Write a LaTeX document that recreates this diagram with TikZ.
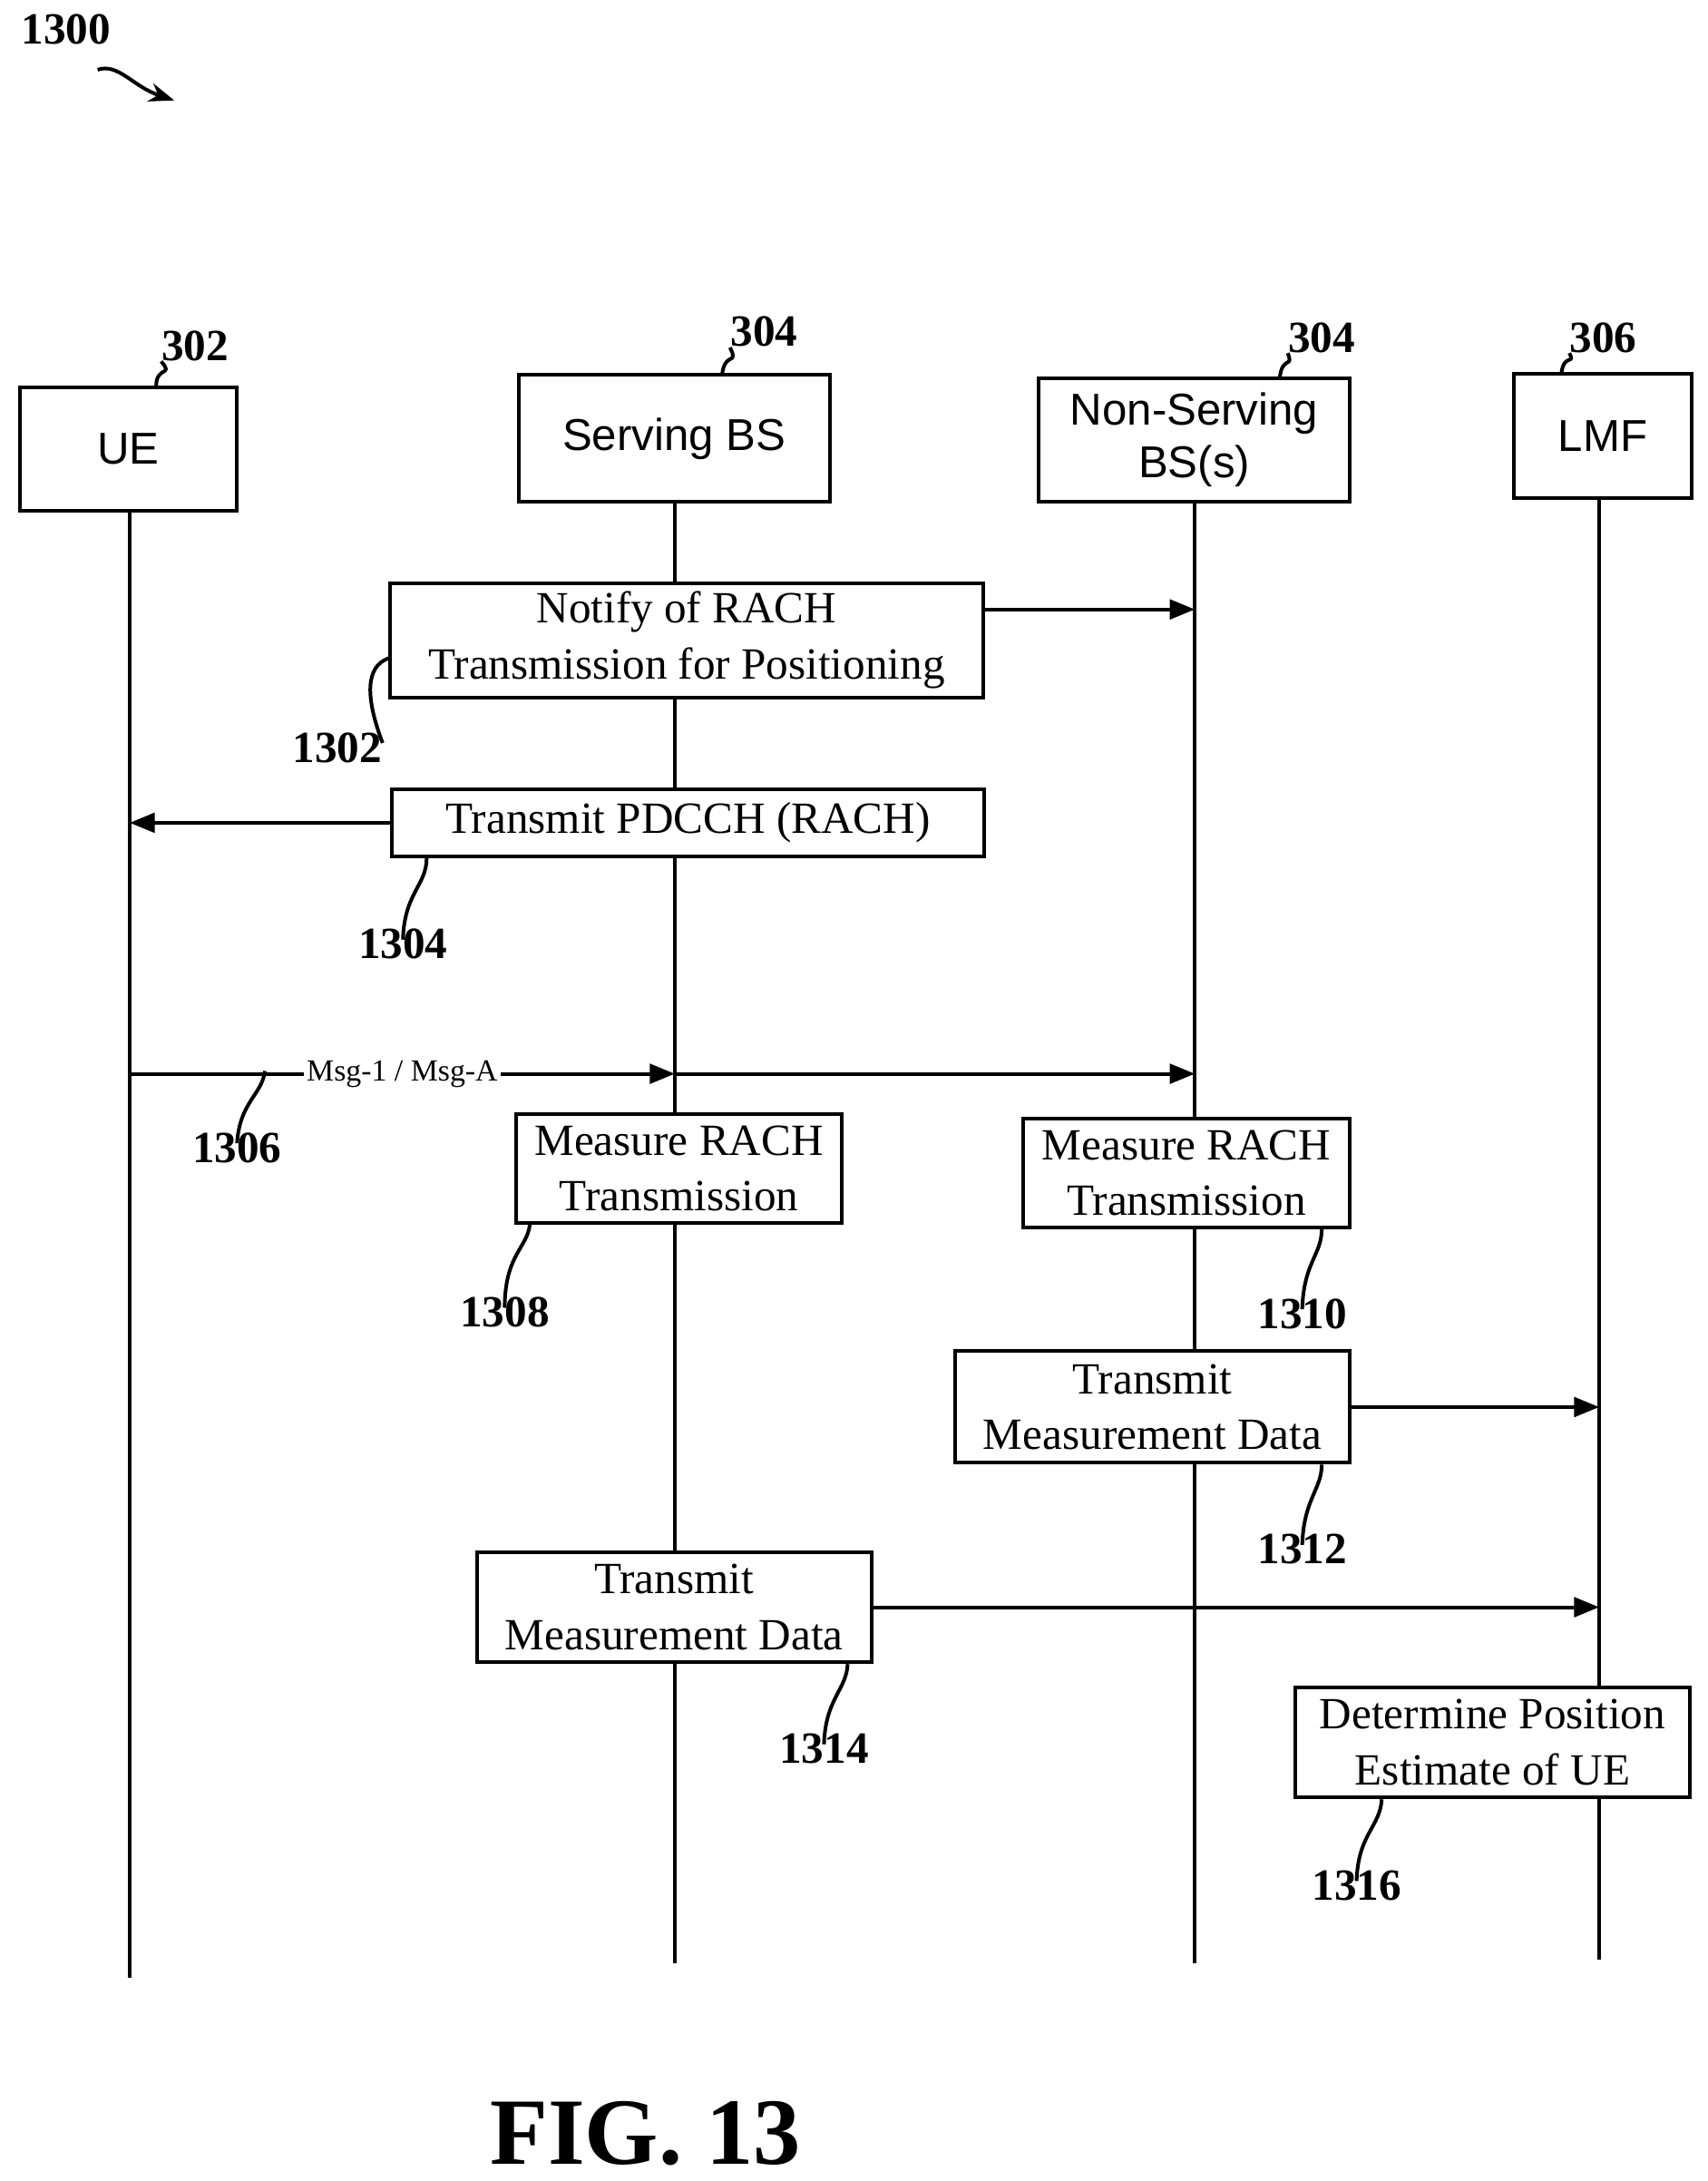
\documentclass[tikz,border=0pt]{standalone}
\usepackage{fontspec}
\setmainfont{Liberation Serif}
\setsansfont{Liberation Sans}
\usetikzlibrary{arrows.meta}
\begin{document}
\begin{tikzpicture}[x=0.5pt,y=0.5pt,yscale=-1,
    hbox/.style={draw,line width=1.3pt,fill=white,inner sep=0pt,font=\sffamily\fontsize{16}{19}\selectfont,align=center},
    sbox/.style={draw,line width=1.3pt,fill=white,inner sep=0pt,font=\fontsize{16}{20}\selectfont,align=center},
    lbl/.style={font=\bfseries\fontsize{16}{19}\selectfont,inner sep=0pt},
    life/.style={line width=1.3pt},
    msg/.style={line width=1.3pt,-{Triangle[length=9pt,width=7pt]}},
    lead/.style={line width=1.3pt}]
\useasboundingbox (0,0) rectangle (1225,1564);
% headers
\node[lbl,anchor=north west] (fig) at (15,10) {1300};
\coordinate (figtip) at (125,72);
\draw[line width=1.3pt,-{Stealth[length=9pt]}] (70,50) .. controls (85,45) and (95,62) .. (figtip);
\node[hbox,minimum width=78pt,minimum height=44pt] (ue) at (92,322) {UE};
\node[hbox,minimum width=111.5pt,minimum height=45.5pt] (sbs) at (483.5,314.5) {Serving BS};
\node[hbox,minimum width=111.5pt,minimum height=44.5pt] (nbs) at (856.5,315.5) {Non-Serving\\BS(s)};
\node[hbox,minimum width=63.5pt,minimum height=44.5pt] (lmf) at (1149.5,312.5) {LMF};
\node[lbl] (l302) at (140,248) {302};
\node[lbl] (l304a) at (548,238) {304};
\node[lbl] (l304b) at (948,242) {304};
\node[lbl] (l306) at (1150,242) {306};
\draw[lead] (112,277) .. controls (112,262) and (125,270) .. (l302.south west);
\draw[lead] (518,268) .. controls (520,252) and (530,262) .. (l304a.south west);
\draw[lead] (918,270) .. controls (920,255) and (928,264) .. (l304b.south west);
\draw[lead] (1120,267) .. controls (1122,253) and (1130,262) .. (l306.south west);
% lifelines
\coordinate (ueend) at (93,1418);
\coordinate (sbsend) at (484,1408);
\coordinate (nbsend) at (857,1408);
\coordinate (lmfend) at (1147,1405);
\draw[life] (ue.south -| ueend) -- (ueend);
\draw[life] (sbs.south -| sbsend) -- (sbsend);
\draw[life] (nbs.south -| nbsend) -- (nbsend);
\draw[life] (lmf.south -| lmfend) -- (lmfend);
% steps
\node[sbox,minimum width=212.5pt,minimum height=41pt] (s1302) at (492.5,459) {Notify of RACH\\Transmission for Positioning};
\node[sbox,minimum width=212.5pt,minimum height=24pt] (s1304) at (493.5,590) {Transmit PDCCH (RACH)};
\node[sbox,minimum width=117pt,minimum height=39pt] (s1308) at (487,838) {Measure RACH\\Transmission};
\node[sbox,minimum width=117pt,minimum height=39pt] (s1310) at (851,841) {Measure RACH\\Transmission};
\node[sbox,minimum width=141.5pt,minimum height=40pt] (s1312) at (826.5,1009) {Transmit\\Measurement Data};
\node[sbox,minimum width=141.5pt,minimum height=39.5pt] (s1314) at (483.5,1152.5) {Transmit\\Measurement Data};
\node[sbox,minimum width=141.5pt,minimum height=39.5pt] (s1316) at (1070.5,1249.5) {Determine Position\\Estimate of UE};
% messages
\draw[msg] (s1302.east |- 0,437) -- (nbsend |- 0,437);
\draw[msg] (s1304.west) -- (ueend |- s1304.west);
\coordinate (m1) at (ueend |- 0,770);
\draw[msg] (m1) -- (sbsend |- m1) node[pos=0.5,fill=white,inner sep=1pt,font=\fontsize{11}{13}\selectfont] {Msg-1 / Msg-A};
\draw[msg] (sbsend |- m1) -- (nbsend |- m1);
\draw[msg] (s1312.east) -- (lmfend |- s1312.east);
\draw[msg] (s1314.east) -- (lmfend |- s1314.east);
% labels
\node[lbl] (l1302) at (242,536) {1302};
\node[lbl] (l1304) at (289,677) {1304};
\node[lbl] (l1306) at (170,823) {1306};
\node[lbl] (l1308) at (362,941) {1308};
\node[lbl] (l1310) at (934,942) {1310};
\node[lbl] (l1312) at (934,1111) {1312};
\node[lbl] (l1314) at (591,1254) {1314};
\node[lbl] (l1316) at (973,1352) {1316};
\draw[lead] ([yshift=4]l1302.north east) .. controls (262,500) and (262,478) .. (s1302.west |- 0,472);
\draw[lead] ([yshift=4]l1304.north) .. controls (290,640) and (306,635) .. (s1304.south -| 306,0);
\draw[lead] ([yshift=4]l1306.north) .. controls (172,790) and (188,785) .. (190,768);
\draw[lead] ([yshift=4]l1308.north) .. controls (362,900) and (378,895) .. (s1308.south -| 380,0);
\draw[lead] ([yshift=4]l1310.north) .. controls (935,905) and (948,900) .. (s1310.south -| 948,0);
\draw[lead] ([yshift=4]l1312.north) .. controls (935,1075) and (948,1068) .. (s1312.south -| 948,0);
\draw[lead] ([yshift=4]l1314.north) .. controls (592,1218) and (607,1212) .. (s1314.south -| 608,0);
\draw[lead] ([yshift=4]l1316.north) .. controls (974,1315) and (990,1310) .. (s1316.south -| 991,0);
\node[font=\bfseries\fontsize{34}{40}\selectfont] (title) at (463,1530) {FIG. 13};
\end{tikzpicture}
\end{document}
